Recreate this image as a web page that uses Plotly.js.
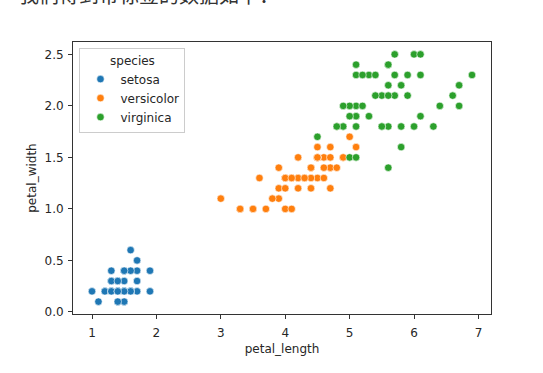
<!DOCTYPE html>
<html>
<head>
<meta charset="utf-8">
<script src="https://cdn.plot.ly/plotly-3.0.1.min.js"></script>
<style>
html,body{margin:0;padding:0;background:#fff;}
#chart{width:543px;height:373px;}
</style>
</head>
<body>
<div id="chart"></div>
<script>
const setosaLength = [1.4,1.4,1.3,1.5,1.4,1.7,1.4,1.5,1.4,1.5,1.5,1.6,1.4,1.1,1.2,1.5,1.3,1.4,1.7,1.5,1.7,1.5,1.0,1.7,1.9,1.6,1.6,1.5,1.4,1.6,1.6,1.5,1.5,1.4,1.5,1.2,1.3,1.4,1.3,1.5,1.3,1.3,1.3,1.6,1.9,1.4,1.6,1.4,1.5,1.4];
const setosaWidth  = [0.2,0.2,0.2,0.2,0.2,0.4,0.3,0.2,0.2,0.1,0.2,0.2,0.1,0.1,0.2,0.4,0.4,0.3,0.3,0.3,0.2,0.4,0.2,0.5,0.2,0.2,0.4,0.2,0.2,0.2,0.2,0.4,0.1,0.2,0.2,0.2,0.2,0.1,0.2,0.2,0.3,0.3,0.2,0.6,0.4,0.3,0.2,0.2,0.2,0.2];
const versicolorLength = [4.7,4.5,4.9,4.0,4.6,4.5,4.7,3.3,4.6,3.9,3.5,4.2,4.0,4.7,3.6,4.4,4.5,4.1,4.5,3.9,4.8,4.0,4.9,4.7,4.3,4.4,4.8,5.0,4.5,3.5,3.8,3.7,3.9,5.1,4.5,4.5,4.7,4.4,4.1,4.0,4.4,4.6,4.0,3.3,4.2,4.2,4.2,4.3,3.0,4.1];
const versicolorWidth  = [1.4,1.5,1.5,1.3,1.5,1.3,1.6,1.0,1.3,1.4,1.0,1.5,1.0,1.4,1.3,1.4,1.5,1.0,1.5,1.1,1.8,1.3,1.5,1.2,1.3,1.4,1.4,1.7,1.5,1.0,1.1,1.0,1.2,1.6,1.5,1.6,1.5,1.3,1.3,1.3,1.2,1.4,1.2,1.0,1.3,1.2,1.3,1.3,1.1,1.3];
const virginicaLength = [6.0,5.1,5.9,5.6,5.8,6.6,4.5,6.3,5.8,6.1,5.1,5.3,5.5,5.0,5.1,5.3,5.5,6.7,6.9,5.0,5.7,4.9,6.7,4.9,5.7,6.0,4.8,4.9,5.6,5.8,6.1,6.4,5.6,5.1,5.6,6.1,5.6,5.5,4.8,5.4,5.6,5.1,5.1,5.9,5.7,5.2,5.0,5.2,5.4,5.1];
const virginicaWidth  = [2.5,1.9,2.1,1.8,2.2,2.1,1.7,1.8,1.8,2.5,2.0,1.9,2.1,2.0,2.4,2.3,1.8,2.2,2.3,1.5,2.3,2.0,2.0,1.8,2.1,1.8,1.8,1.8,2.1,1.6,1.9,2.0,2.2,1.5,1.4,2.3,2.4,1.8,1.8,2.1,2.4,2.3,1.9,2.3,2.5,2.3,1.9,2.0,2.3,1.8];

const speciesNames = ['setosa','versicolor','virginica'];
const speciesColors = ['#1f77b4','#ff7f0e','#2ca02c'];
const xTickVals = [1,2,3,4,5,6,7];
const yTickVals = [0.0,0.5,1.0,1.5,2.0,2.5];

const xs = [setosaLength, versicolorLength, virginicaLength];
const ys = [setosaWidth, versicolorWidth, virginicaWidth];

const traces = speciesNames.map((name,i)=>({
  type:'scatter', mode:'markers', name:name,
  x: xs[i], y: ys[i],
  marker:{color:speciesColors[i], size:7.5, line:{color:'#ffffff', width:0.6}}
}));

const fontFam = 'DejaVu Sans, sans-serif';
const textCol = '#262626';
const fs = 12;

const layout = {
  width:543, height:373,
  margin:{l:72.5, r:51.5, t:42, b:58.5, pad:0},
  paper_bgcolor:'#ffffff', plot_bgcolor:'#ffffff',
  font:{family:fontFam, size:fs, color:textCol},
  showlegend:true,
  xaxis:{
    range:[0.705,7.195], tickvals:xTickVals, ticktext:xTickVals.map(String),
    showgrid:false, zeroline:false,
    showline:true, mirror:true, linecolor:'#333333', linewidth:1,
    ticks:'outside', ticklen:4, tickwidth:1, tickcolor:'#333333',
    ticklabelstandoff:4,
    tickfont:{size:fs, color:textCol},
    title:{text:'petal_length', font:{size:fs, color:textCol}, standoff:5},
    automargin:false
  },
  yaxis:{
    range:[-0.02,2.62], tickvals:yTickVals, ticktext:yTickVals.map(v=>v.toFixed(1)),
    showgrid:false, zeroline:false,
    showline:true, mirror:true, linecolor:'#333333', linewidth:1,
    ticks:'outside', ticklen:4, tickwidth:1, tickcolor:'#333333',
    ticklabelstandoff:2,
    tickfont:{size:fs, color:textCol},
    title:{text:'petal_width', font:{size:fs, color:textCol}, standoff:5},
    automargin:false
  },
  legend:{
    x:0.0155, y:0.978, xanchor:'left', yanchor:'top',
    bgcolor:'rgba(255,255,255,0.8)', bordercolor:'#cccccc', borderwidth:1,
    font:{size:fs, color:textCol},
    title:{text:'species', side:'top center', font:{size:fs, color:textCol}},
    itemwidth:30, tracegroupgap:0
  },
  annotations:[{
    text:'我们得到带标签的数据如下：',
    xref:'paper', yref:'paper', x:-0.135, y:1.176,
    xanchor:'left', yanchor:'middle', showarrow:false,
    font:{family:'Noto Sans CJK SC, sans-serif', size:20, color:'#333333'}
  }]
};

Plotly.newPlot('chart', traces, layout, {displayModeBar:false, staticPlot:true});
</script>
</body>
</html>
